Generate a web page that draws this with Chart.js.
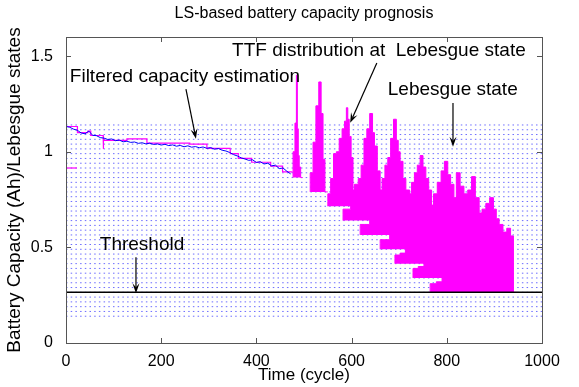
<!DOCTYPE html>
<html>
<head>
<meta charset="utf-8">
<script src="https://cdn.jsdelivr.net/npm/chart.js@4"></script>
<style>
  html, body { margin: 0; padding: 0; background: #fff; }
  #wrap { width: 579px; height: 387px; }
</style>
</head>
<body>
<div id="wrap"><canvas id="lsChart" width="579" height="387"></canvas></div>
<script>
// axis ticks
const xTicks = [0, 200, 400, 600, 800, 1000];
const yTicks = [0, 0.5, 1, 1.5];

// capacity estimate (cycles / Ah)
const capTime = [0, 8, 16, 24, 32, 40, 48, 56, 64, 72, 80, 88, 96, 104, 112, 120, 128, 136, 144, 152,
  160, 168, 176, 184, 192, 200, 208, 216, 224, 232, 240, 248, 256, 264, 272, 280, 288, 296, 304, 312,
  320, 328, 336, 344, 352, 360, 368, 376, 384, 392, 400, 408, 416, 424, 432, 440, 448, 456, 464, 472];
const capValue = [1.132, 1.128, 1.118, 1.112, 1.098, 1.094, 1.108, 1.086, 1.084, 1.074, 1.071, 1.064, 1.067, 1.058, 1.061, 1.052, 1.055, 1.049, 1.051, 1.044,
  1.047, 1.041, 1.045, 1.038, 1.041, 1.035, 1.039, 1.032, 1.036, 1.029, 1.033, 1.026, 1.031, 1.024, 1.027, 1.021, 1.025, 1.018, 1.022, 1.013,
  1.017, 1.008, 1.004, 0.996, 0.985, 0.978, 0.968, 0.962, 0.955, 0.958, 0.944, 0.948, 0.936, 0.940, 0.926, 0.930, 0.912, 0.915, 0.898, 0.884];

// Lebesgue-sampled estimate (step trace)
const stepTime = [0, 24, 24, 46, 46, 52, 52, 78, 78, 79, 79, 128, 128, 170, 170, 260, 260, 296, 296, 345, 345, 362, 362, 390, 390, 430, 430, 455, 455, 476];
const stepValue = [1.132, 1.132, 1.10, 1.10, 1.108, 1.108, 1.085, 1.085, 1.015, 1.015, 1.06, 1.06, 1.067, 1.067, 1.045, 1.045, 1.04, 1.04, 1.018, 1.018, 0.99, 0.99, 0.965, 0.965, 0.945, 0.945, 0.925, 0.925, 0.895, 0.895];
const startMarkTime = [0, 23];
const startMarkValue = [0.915, 0.915];

// Lebesgue states
const lebesgueLevels = [1.14, 1.115, 1.09, 1.065, 1.04, 1.015, 0.99, 0.965, 0.94, 0.915, 0.89, 0.865, 0.84, 0.815,
  0.79, 0.765, 0.74, 0.715, 0.69, 0.665, 0.64, 0.615, 0.59, 0.565, 0.54, 0.515, 0.49, 0.465, 0.44, 0.415,
  0.39, 0.365, 0.34, 0.315, 0.29, 0.265, 0.24, 0.215, 0.19, 0.165, 0.14];
const thresholdValue = 0.265;

// TTF distributions: base state, bin edges (cycle), bin tops (Ah)
const ttfBase = [0.865, 0.79, 0.715, 0.64, 0.565, 0.49, 0.415, 0.34, 0.265];
const ttf1Edges = [477, 481, 484, 486, 488, 490, 493, 497];
const ttf1Top = [0.93, 1.00, 1.15, 1.40, 1.12, 0.98, 0.92];
const ttf2Edges = [513, 519, 525, 531, 536, 540, 544, 550];
const ttf2Top = [0.83, 0.89, 1.05, 1.24, 1.365, 1.20, 0.96];
const ttf3Edges = [550, 556, 562, 568, 574, 580, 585, 589, 592, 595, 599, 603, 607, 612];
const ttf3Top = [0.74, 0.78, 0.86, 0.99, 1.00, 1.07, 1.12, 1.16, 1.23, 1.17, 1.08, 0.97, 0.80];
const ttf4Edges = [582, 590, 598, 606, 614, 620, 626, 632, 638, 644, 648, 654, 660, 666, 674, 681];
const ttf4Top = [0.67, 0.70, 0.70, 0.76, 0.83, 0.86, 0.93, 1.07, 1.12, 1.20, 1.10, 1.03, 0.90, 0.78, 0.70];
const ttf5Edges = [618, 628, 638, 648, 656, 664, 670, 676, 682, 688, 694, 698, 702, 708, 714, 722, 730, 738, 745];
const ttf5Top = [0.60, 0.62, 0.62, 0.70, 0.74, 0.80, 0.86, 0.93, 0.97, 1.07, 1.17, 1.06, 1.00, 0.95, 0.86, 0.80, 0.72, 0.62];
const ttf6Edges = [660, 670, 680, 690, 700, 710, 718, 726, 732, 738, 744, 750, 756, 762, 768, 776, 784, 792, 800, 808];
const ttf6Top = [0.52, 0.54, 0.54, 0.60, 0.63, 0.66, 0.71, 0.78, 0.84, 0.89, 0.93, 0.98, 0.92, 0.86, 0.80, 0.72, 0.64, 0.58, 0.53];
const ttf7Edges = [691, 702, 713, 724, 735, 745, 755, 764, 772, 780, 788, 795, 802, 808, 815, 822, 830, 838, 846, 855, 864, 872];
const ttf7Top = [0.44, 0.46, 0.47, 0.51, 0.54, 0.58, 0.62, 0.67, 0.72, 0.78, 0.84, 0.90, 0.95, 0.88, 0.83, 0.76, 0.70, 0.62, 0.55, 0.50, 0.45];
const ttf8Edges = [729, 740, 752, 764, 776, 788, 800, 810, 820, 828, 836, 844, 852, 860, 868, 876, 884, 892, 900, 910, 922];
const ttf8Top = [0.37, 0.39, 0.40, 0.45, 0.49, 0.54, 0.60, 0.66, 0.74, 0.89, 0.82, 0.78, 0.80, 0.87, 0.76, 0.68, 0.60, 0.52, 0.45, 0.39];
const ttf9Edges = [765, 778, 790, 802, 814, 826, 838, 848, 858, 866, 874, 882, 890, 898, 904, 910, 918, 926, 934, 940, 947];
const ttf9Top = [0.29, 0.31, 0.32, 0.36, 0.39, 0.43, 0.47, 0.52, 0.57, 0.62, 0.66, 0.70, 0.73, 0.76, 0.70, 0.65, 0.62, 0.58, 0.60, 0.56];

const ttfEdges = [ttf1Edges, ttf2Edges, ttf3Edges, ttf4Edges, ttf5Edges, ttf6Edges, ttf7Edges, ttf8Edges, ttf9Edges];
const ttfTop = [ttf1Top, ttf2Top, ttf3Top, ttf4Top, ttf5Top, ttf6Top, ttf7Top, ttf8Top, ttf9Top];

// text notes with arrows, in data units [x, y]
const notes = [
  { text: "Filtered capacity estimation", at: [8, 1.39], from: [252, 1.328], to: [273, 1.068] },
  { text: "TTF distribution at  Lebesgue state", at: [349, 1.526], from: [653, 1.464], to: [597, 1.151] },
  { text: "Lebesgue state", at: [676, 1.323], from: [813, 1.255], to: [813, 1.026] },
  { text: "Threshold", at: [71, 0.516], from: [147, 0.448], to: [147, 0.26] }
];

const FONT = "'Liberation Sans', Arial, sans-serif";
const MAGENTA = "#ff00ff";

function zip(xs, ys) {
  return xs.map((x, i) => ({ x: x, y: ys[i] }));
}

// histogram outline sitting on its Lebesgue state
function ttfPoints(base, edges, tops) {
  const pts = [{ x: edges[0], y: base }];
  tops.forEach((v, i) => pts.push({ x: edges[i], y: v }));
  pts.push({ x: edges[edges.length - 1], y: base });
  return pts;
}

const datasets = [];

lebesgueLevels.forEach(level => {
  datasets.push({
    data: [{ x: 0, y: level }, { x: 1000, y: level }],
    borderColor: "#6c6cff",
    borderWidth: 1,
    borderDash: [1.5, 3.2],
    pointRadius: 0,
    order: 20
  });
});

ttfBase.forEach((base, i) => {
  datasets.push({
    data: ttfPoints(base, ttfEdges[i], ttfTop[i]),
    stepped: "after",
    borderColor: MAGENTA,
    backgroundColor: MAGENTA,
    borderWidth: 1,
    pointRadius: 0,
    fill: { value: base },
    order: 10 - i * 0.1
  });
});

datasets.push({
  data: [{ x: 0, y: thresholdValue }, { x: 1000, y: thresholdValue }],
  borderColor: "#000",
  borderWidth: 1.6,
  pointRadius: 0,
  order: 3
});

datasets.push({
  data: zip(stepTime, stepValue),
  borderColor: MAGENTA,
  borderWidth: 1.2,
  pointRadius: 0,
  order: 2
});

datasets.push({
  data: zip(startMarkTime, startMarkValue),
  borderColor: MAGENTA,
  borderWidth: 1.2,
  pointRadius: 0,
  order: 2
});

datasets.push({
  data: zip(capTime, capValue),
  borderColor: "#0000ff",
  borderWidth: 1,
  pointRadius: 0,
  order: 1
});

function arrow(ctx, x1, y1, x2, y2) {
  const ang = Math.atan2(y2 - y1, x2 - x1);
  const len = 10, half = 3.5;
  ctx.beginPath();
  ctx.moveTo(x1, y1);
  ctx.lineTo(x2 - Math.cos(ang) * len * 0.6, y2 - Math.sin(ang) * len * 0.6);
  ctx.stroke();
  ctx.beginPath();
  ctx.moveTo(x2, y2);
  ctx.lineTo(x2 - Math.cos(ang) * len - Math.sin(ang) * half, y2 - Math.sin(ang) * len + Math.cos(ang) * half);
  ctx.lineTo(x2 - Math.cos(ang) * len * 0.6, y2 - Math.sin(ang) * len * 0.6);
  ctx.lineTo(x2 - Math.cos(ang) * len + Math.sin(ang) * half, y2 - Math.sin(ang) * len - Math.cos(ang) * half);
  ctx.closePath();
  ctx.fill();
}

// box, inward ticks, title, axis titles and notes
const matlabFrame = {
  id: "matlabFrame",
  afterDraw(chart) {
    const ctx = chart.ctx;
    const a = chart.chartArea;
    const xs = chart.scales.x, ys = chart.scales.y;
    ctx.save();
    ctx.strokeStyle = "#555";
    ctx.lineWidth = 1;
    ctx.strokeRect(Math.round(a.left) + 0.5, Math.round(a.top) + 0.5, Math.round(a.right - a.left), Math.round(a.bottom - a.top));
    ctx.beginPath();
    xTicks.forEach(v => {
      const px = Math.round(xs.getPixelForValue(v)) + 0.5;
      ctx.moveTo(px, a.bottom); ctx.lineTo(px, a.bottom - 5);
      ctx.moveTo(px, a.top); ctx.lineTo(px, a.top + 5);
    });
    yTicks.forEach(v => {
      const py = Math.round(ys.getPixelForValue(v)) + 0.5;
      ctx.moveTo(a.left, py); ctx.lineTo(a.left + 5, py);
      ctx.moveTo(a.right, py); ctx.lineTo(a.right - 5, py);
    });
    ctx.stroke();

    const midX = (a.left + a.right) / 2;
    ctx.fillStyle = "#000";
    ctx.textAlign = "center";
    ctx.textBaseline = "middle";
    ctx.font = "16px " + FONT;
    ctx.fillText("LS-based battery capacity prognosis", midX, 14);
    ctx.font = "17px " + FONT;
    ctx.fillText("Time (cycle)", midX, 375);
    ctx.save();
    ctx.font = "19px " + FONT;
    ctx.translate(15, (a.top + a.bottom) / 2);
    ctx.rotate(-Math.PI / 2);
    ctx.fillText("Battery Capacity (Ah)/Lebesgue states", 0, 0);
    ctx.restore();

    ctx.textAlign = "left";
    ctx.font = "19px " + FONT;
    ctx.strokeStyle = "#000";
    ctx.lineWidth = 1.2;
    notes.forEach(n => {
      ctx.fillText(n.text, xs.getPixelForValue(n.at[0]), ys.getPixelForValue(n.at[1]));
      arrow(ctx, xs.getPixelForValue(n.from[0]), ys.getPixelForValue(n.from[1]),
        xs.getPixelForValue(n.to[0]), ys.getPixelForValue(n.to[1]));
    });
    ctx.restore();
  }
};

new Chart(document.getElementById("lsChart"), {
  type: "line",
  data: { datasets: datasets },
  options: {
    responsive: false,
    animation: false,
    events: [],
    layout: { padding: { top: 37, right: 37, left: 0, bottom: 0 } },
    plugins: { legend: { display: false }, tooltip: { enabled: false }, title: { display: false } },
    scales: {
      x: {
        type: "linear",
        min: 0,
        max: 1000,
        afterBuildTicks: s => { s.ticks = xTicks.map(v => ({ value: v })); },
        afterFit: s => { s.height = 44; },
        grid: { display: false },
        border: { display: false },
        ticks: { color: "#000", font: { family: FONT, size: 16 }, padding: 1, maxRotation: 0, callback: v => String(v) }
      },
      y: {
        type: "linear",
        min: 0,
        max: 1.6,
        afterBuildTicks: s => { s.ticks = yTicks.map(v => ({ value: v })); },
        afterFit: s => { s.width = 66; },
        grid: { display: false },
        border: { display: false },
        ticks: { color: "#000", font: { family: FONT, size: 16 }, padding: 5, callback: v => String(v) }
      }
    }
  },
  plugins: [matlabFrame]
});
</script>
</body>
</html>
